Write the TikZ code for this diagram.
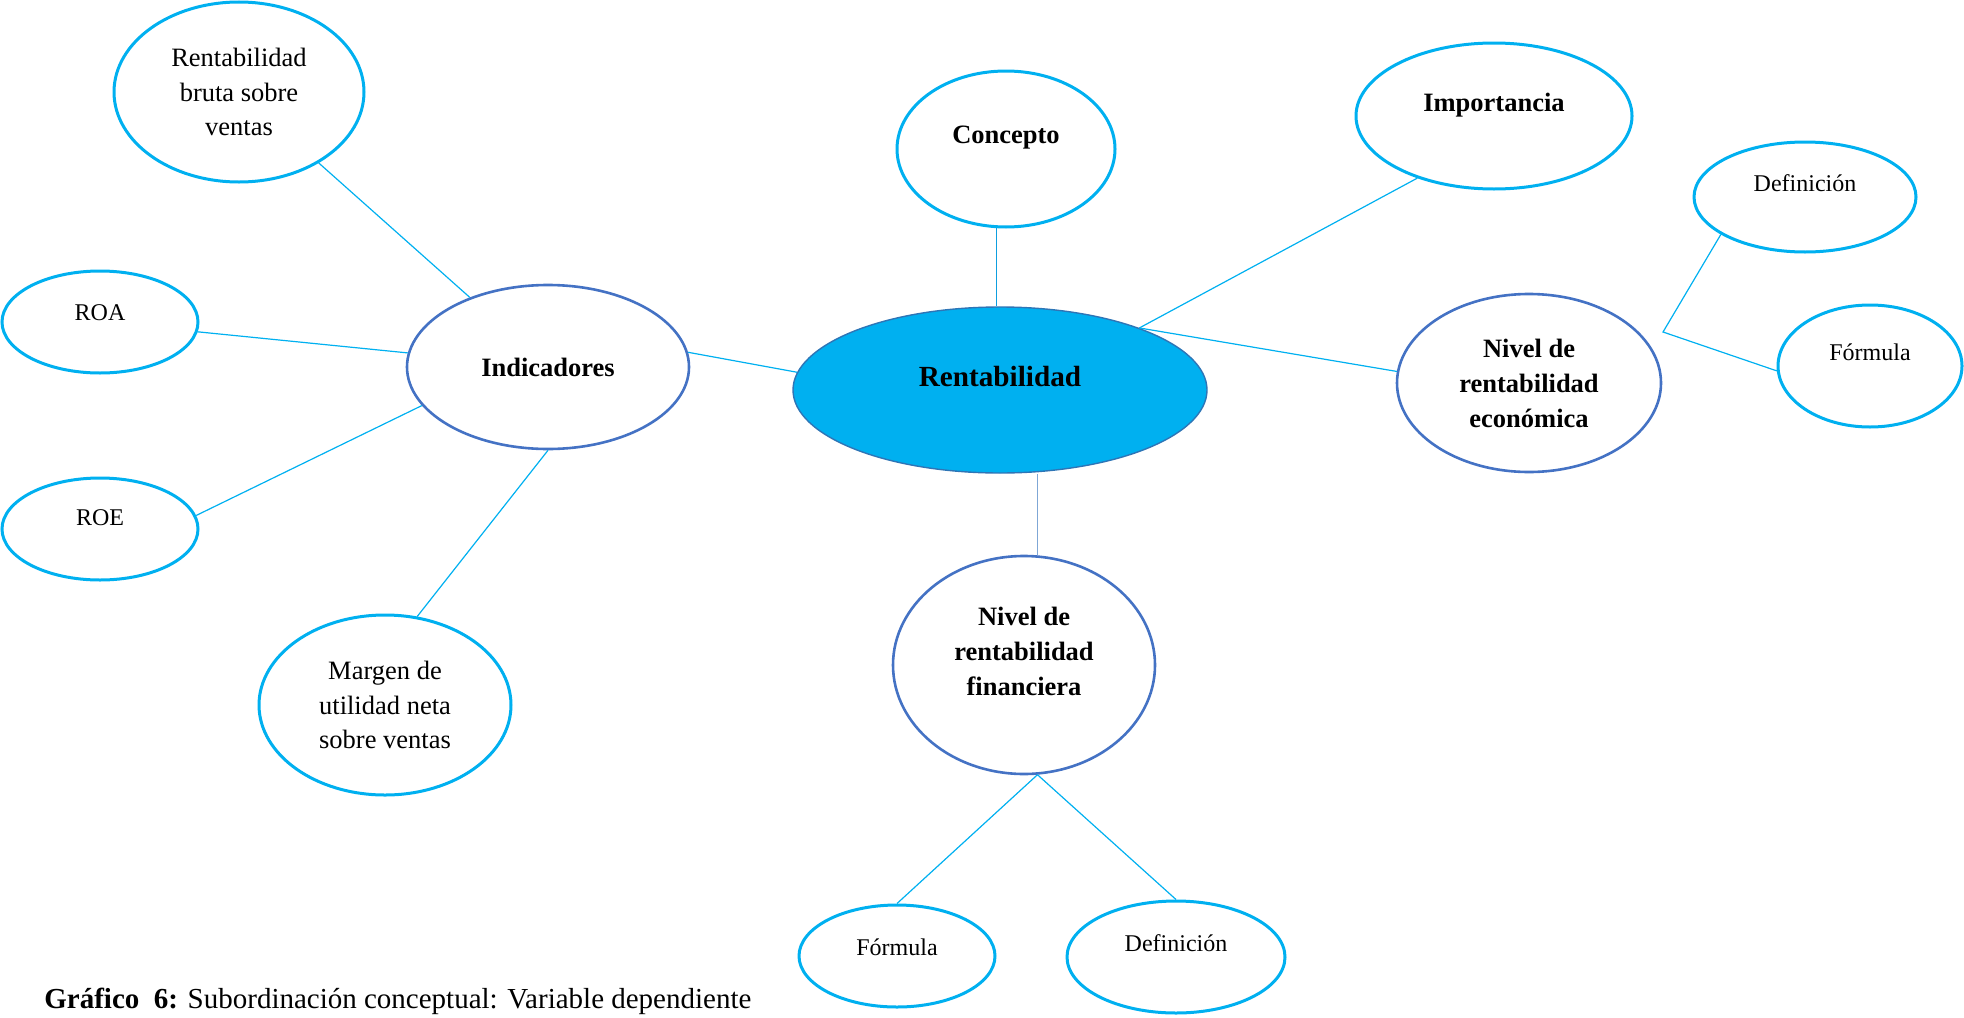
\documentclass[tikz,border=0pt]{standalone}
\usepackage{fontspec}
\setmainfont{Liberation Serif}
\usetikzlibrary{shapes.geometric}
\definecolor{celeste}{HTML}{00B0F0}
\definecolor{azulborde}{HTML}{4472C4}
\definecolor{azulcentro}{HTML}{2E75B6}
\definecolor{grisazul}{HTML}{7FA7D6}
\newcommand{\alzar}[2]{\raisebox{#1}[0.7em][0.2em]{#2}}
\tikzset{
  burbuja/.style={ellipse, draw=celeste, line width=1.5pt, fill=white, inner sep=0pt, align=center},
  burbujaosc/.style={burbuja, draw=azulborde, line width=1.3pt},
  txtbold/.style={font=\fontsize{13.25}{17.5}\selectfont\bfseries},
  txtreg/.style={font=\fontsize{13.25}{17.2}\selectfont},
  txtchico/.style={font=\fontsize{12}{14}\selectfont},
  enlace/.style={draw=celeste, line width=0.6pt},
}
\begin{document}
\begin{tikzpicture}[x=0.5pt, y=-0.5pt]
    \useasboundingbox (0,0) rectangle (1964,1017);
    % nodo central
    \node[ellipse, fill=celeste, draw=azulcentro, line width=0.7pt, inner sep=0pt, minimum width=207pt, minimum height=83pt, font=\fontsize{14.6}{17}\selectfont\bfseries] (rent) at (1000,390) {\alzar{5.3pt}{Rentabilidad}};
    \node[burbuja, txtbold, minimum width=109pt, minimum height=78pt] (conc) at (1006,149) {\alzar{6pt}{Concepto}};
    \node[burbuja, txtbold, minimum width=138pt, minimum height=73pt] (imp) at (1494,116) {\alzar{5.5pt}{Importancia}};
    % rama economica
    \node[burbujaosc, txtbold, minimum width=132pt, minimum height=89pt] (eco) at (1529,383) {Nivel de\\rentabilidad\\económica};
    \node[burbuja, txtchico, minimum width=111pt, minimum height=55pt] (def1) at (1805,197) {\alzar{5.8pt}{Definición}};
    \node[burbuja, txtchico, minimum width=92pt, minimum height=61pt] (form1) at (1870,366) {\alzar{5.6pt}{Fórmula}};
    % rama financiera
    \node[burbujaosc, txtbold, minimum width=131pt, minimum height=109pt] (fin) at (1024,665) {\raisebox{6pt}[\height][\depth]{\begin{tabular}{@{}c@{}}Nivel de\\rentabilidad\\financiera\end{tabular}}};
    \node[burbuja, txtchico, minimum width=98pt, minimum height=51pt] (form2) at (897,956) {\alzar{3.5pt}{Fórmula}};
    \node[burbuja, txtchico, minimum width=109pt, minimum height=56pt] (def2) at (1176,957) {\alzar{6pt}{Definición}};
    % indicadores
    \node[burbujaosc, txtbold, minimum width=141pt, minimum height=82pt] (ind) at (548,367) {Indicadores};
    \node[burbuja, txtreg, minimum width=125pt, minimum height=90pt] (bruta) at (239,92) {Rentabilidad\\bruta sobre\\ventas};
    \node[burbuja, txtchico, minimum width=98pt, minimum height=51pt] (roa) at (100,322) {\alzar{4pt}{ROA}};
    \node[burbuja, txtchico, minimum width=98pt, minimum height=51pt] (roe) at (100,529) {\alzar{5pt}{ROE}};
    \node[burbuja, txtreg, minimum width=126pt, minimum height=90pt] (marg) at (385,705) {Margen de\\utilidad neta\\sobre ventas};
    \node[anchor=base west, inner sep=0pt, font=\fontsize{14.5}{17}\selectfont] (titulo) at (44,1008) {\textbf{Gráfico\ \ 6:} Subordinación conceptual: Variable dependiente};
    % conectores
    \draw[enlace] (bruta) -- (ind);
    \draw[enlace] (roa) -- (ind);
    \draw[enlace] (roe.8) -- (ind.197);
    \draw[enlace] (ind.south) -- (marg.70);
    \draw[enlace] (ind.6) -- (rent.175);
    \draw[enlace, draw=celeste!70!azulcentro] (conc.263) -- (conc.263 |- rent.north);
    \draw[enlace] (rent.24) -- (imp.219);
    \draw[enlace] (rent.24) -- (eco.175);
    \draw[enlace, draw=grisazul] (fin.83) -- (fin.83 |- rent.south);
    \draw[enlace] (fin.-83) -- (form2.north);
    \draw[enlace] (fin.-83) -- (def2.north);
    \coordinate (quiebre) at (1663,332);
    \draw[enlace] (def1.204) -- (quiebre) -- (form1.183);
\end{tikzpicture}
\end{document}
